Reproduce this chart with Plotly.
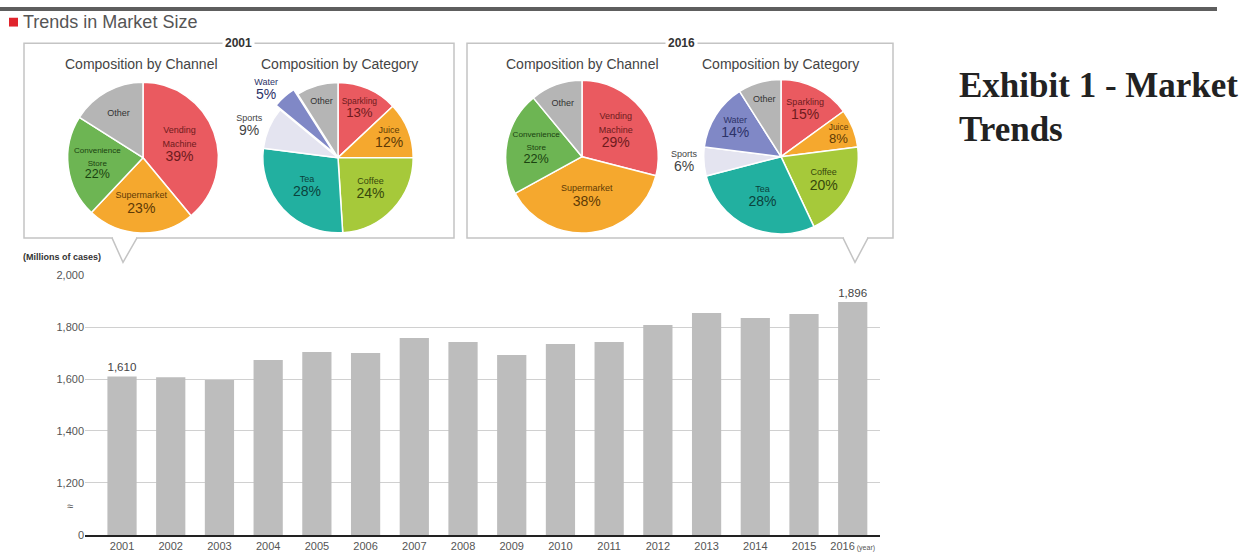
import plotly.graph_objects as go

# ---------------- data ----------------
years = [str(y) for y in range(2001, 2017)]
market_size = [1610, 1607, 1596, 1673, 1704, 1700, 1758, 1742,
               1692, 1735, 1742, 1808, 1854, 1835, 1850, 1896]

channel_labels = ["Vending Machine", "Supermarket", "Convenience Store", "Other"]
channel_2001 = [39, 23, 22, 16]
channel_2016 = [29, 38, 22, 11]

category_labels = ["Sparkling", "Juice", "Coffee", "Tea", "Sports", "Water", "Other"]
category_2001 = [13, 12, 24, 28, 9, 5, 9]
category_2016 = [15, 8, 20, 28, 6, 14, 9]

y_tickvals = [1000, 1200, 1400, 1600, 1800, 2000]
y_ticktext = ["0", "1,200", "1,400", "1,600", "1,800", "2,000"]

# ---------------- styling ----------------
W, H = 1252, 558
def X(px): return px / W
def Y(py): return 1 - py / H

RED, ORANGE, GREEN, GRAY = "#ea5a60", "#f5a82e", "#6db553", "#b5b5b5"
YGREEN, TEAL, LAVENDER, BLUE = "#a6c93a", "#22b0a0", "#e4e4f0", "#8088c6"
channel_colors = [RED, ORANGE, GREEN, GRAY]
channel_text = ["#6e1a1d", "#5e3a05", "#1a4210", "#333333"]
category_colors = [RED, ORANGE, YGREEN, TEAL, LAVENDER, BLUE, GRAY]
category_text = ["#6e1a1d", "#5e3a05", "#36480c", "#0b423c", "#444444", "#2c3268", "#333333"]


def slice_text(labels, values):
    out = []
    for lbl, v in zip(labels, values):
        if lbl == "Other":
            out.append("<span style='font-size:9px'>Other</span>")
        else:
            out.append("<span style='font-size:9px'>" + lbl.replace(" ", "<br>") +
                       "</span><br><span style='font-size:14px'>" + f"{v}%</span>")
    return out


def pie_domain(cx, cy, r):
    return dict(x=[X(cx - r), X(cx + r)], y=[Y(cy + r), Y(cy - r)])


fig = go.Figure()

pies = [
    (channel_labels, channel_2001, channel_colors, channel_text, (143, 155, 77), None, None),
    (category_labels, category_2001, category_colors, category_text, (338, 155, 83),
     [0, 0, 0, 0, 0, 0.08, 0], ["inside", "inside", "inside", "inside", "outside", "outside", "inside"]),
    (channel_labels, channel_2016, channel_colors, channel_text, (582, 154, 78), None, None),
    (category_labels, category_2016, category_colors, category_text, (781, 154, 79),
     None, ["inside", "inside", "inside", "inside", "outside", "inside", "inside"]),
]
for labels, vals, cols, tcols, (cx, cy, r), pull, tpos in pies:
    fig.add_trace(go.Pie(
        labels=labels, values=vals, sort=False, direction="clockwise", rotation=0,
        marker=dict(colors=cols, line=dict(color="white", width=1.5)),
        text=slice_text(labels, vals), textinfo="text",
        textposition=tpos if tpos else "inside",
        insidetextorientation="horizontal",
        textfont=dict(family="Arial, Liberation Sans", size=11, color=tcols),
        pull=pull if pull else 0,
        domain=pie_domain(cx, cy, r), hoverinfo="label+value", showlegend=False,
    ))

bar_text = [f"{v:,}" if i in (0, len(market_size) - 1) else "" for i, v in enumerate(market_size)]
fig.add_trace(go.Bar(
    x=years, y=market_size, marker=dict(color="#bdbdbd", line=dict(width=0)),
    text=bar_text, textposition="outside", cliponaxis=False,
    textfont=dict(family="Arial, Liberation Sans", size=14, color="#444"),
    showlegend=False,
))

ticktext_x = years[:-1] + [years[-1] + "<span style='font-size:7px'> (year)</span>"]
fig.update_layout(
    width=W, height=H, margin=dict(l=0, r=0, t=0, b=0),
    paper_bgcolor="white", plot_bgcolor="white", bargap=0.4,
    font=dict(family="Arial, Liberation Sans", color="#444"),
    xaxis=dict(domain=[X(85), X(880)], type="category", range=[-0.76, 15.56],
               tickvals=years, ticktext=ticktext_x, showgrid=False,
               showline=True, linecolor="#222", linewidth=2, ticks="",
               tickfont=dict(size=11, color="#555"), fixedrange=True),
    yaxis=dict(domain=[Y(540.5), Y(275)], range=[1000, 2000],
               tickvals=y_tickvals, ticktext=y_ticktext,
               showgrid=True, gridcolor="#d0d0d0", gridwidth=1, zeroline=False,
               ticks="", tickfont=dict(size=11, color="#555"), fixedrange=True),
)

shapes = [
    # top dark rule
    dict(type="line", xref="paper", yref="paper", x0=0, x1=X(1217), y0=Y(3), y1=Y(3),
         line=dict(color="#5e5e5e", width=4)),
    # red square
    dict(type="rect", xref="paper", yref="paper", x0=X(9), x1=X(18), y0=Y(21), y1=Y(12),
         fillcolor="#e0242c", line=dict(width=0)),
]
# boxes with pointers
for (x0, x1, y0, y1, pa, pt, pb) in [(24, 454, 38, 237, 112, 123, 137), (467, 893, 38, 237, 843, 855, 868)]:
    shapes.append(dict(type="rect", xref="paper", yref="paper", x0=X(x0), x1=X(x1), y0=Y(y1), y1=Y(y0),
                       line=dict(color="#c4c4c4", width=1.5)))
    shapes.append(dict(type="line", xref="paper", yref="paper", x0=X(pa + 1), x1=X(pb - 1), y0=Y(y1), y1=Y(y1),
                       line=dict(color="white", width=3)))
    shapes.append(dict(type="path", xref="paper", yref="paper",
                       path=f"M {X(pa)} {Y(y1)} L {X(pt)} {Y(262)} L {X(pb)} {Y(y1)}",
                       line=dict(color="#c4c4c4", width=1.5)))
fig.update_layout(shapes=shapes)

ann = []
def txt(x, y, s, size, color="#444", bold=False, xanchor="center", family="Arial, Liberation Sans", bg=None):
    d = dict(xref="paper", yref="paper", x=X(x), y=Y(y), text=f"<b>{s}</b>" if bold else s,
             showarrow=False, xanchor=xanchor, yanchor="middle",
             font=dict(size=size, color=color, family=family))
    if bg:
        d.update(bgcolor=bg, borderpad=2)
    ann.append(d)

txt(21, 16, "Trends in Market Size", 18, "#555", xanchor="left")
txt(238, 38, "2001", 12, "#333", bold=True, bg="white")
txt(681, 38, "2016", 12, "#333", bold=True, bg="white")
txt(141, 59, "Composition by Channel", 14, "#444")
txt(339, 59, "Composition by Category", 14, "#444")
txt(582, 59, "Composition by Channel", 14, "#444")
txt(780, 59, "Composition by Category", 14, "#444")
txt(21, 257, "(Millions of cases)", 9, "#333", bold=True, xanchor="left")
txt(70, 511, "≈", 11, "#555")
txt(957, 81, "Exhibit 1 - Market", 35, "#222", bold=True, xanchor="left", family="Liberation Serif, Times New Roman")
txt(957, 126, "Trends", 35, "#222", bold=True, xanchor="left", family="Liberation Serif, Times New Roman")
fig.update_layout(annotations=ann)

fig.write_html("out.html")
